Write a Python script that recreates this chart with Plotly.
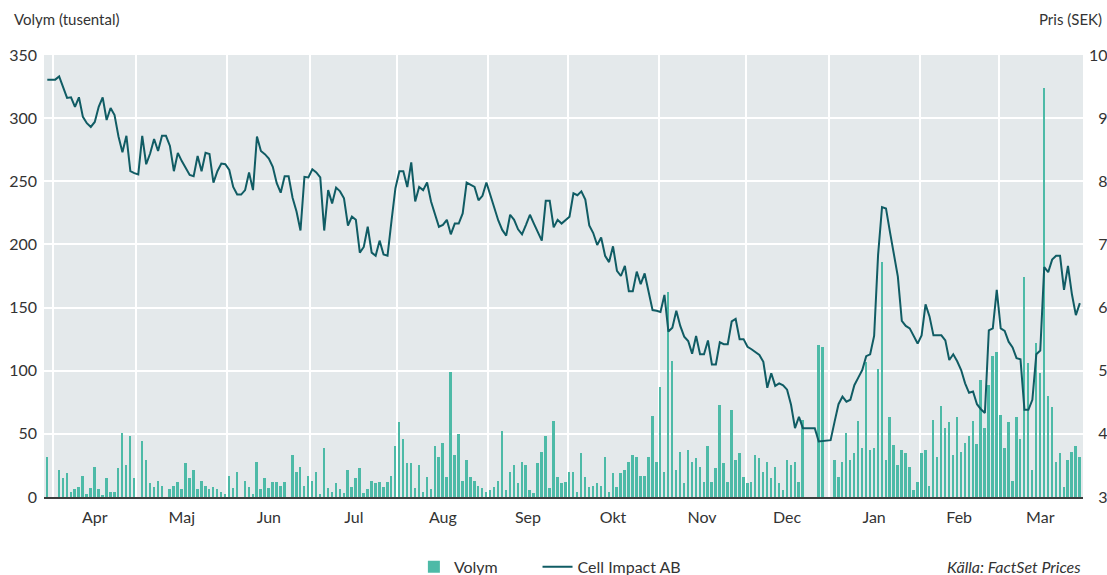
import numpy as np
import pandas as pd
import plotly.graph_objects as go

# ---------------- data ----------------
dates = pd.bdate_range("2018-03-29", "2019-03-29")  # weekday axis (holidays included, zero volume)

price = [
    9.61, 9.61, 9.61, 9.66, 9.50, 9.32, 9.33, 9.18, 9.33, 9.02,
    8.92, 8.86, 8.94, 9.18, 9.33, 8.97, 9.16, 9.05, 8.71, 8.46,
    8.72, 8.16, 8.13, 8.11, 8.72, 8.27, 8.44, 8.67, 8.48, 8.72,
    8.72, 8.56, 8.16, 8.45, 8.32, 8.20, 8.10, 8.08, 8.40, 8.16,
    8.45, 8.43, 7.98, 8.16, 8.28, 8.27, 8.18, 7.91, 7.79, 7.79,
    7.86, 8.14, 7.86, 8.71, 8.48, 8.43, 8.36, 8.23, 7.97, 7.82,
    8.08, 8.08, 7.74, 7.52, 7.22, 8.07, 8.06, 8.19, 8.14, 8.06,
    7.22, 7.86, 7.65, 7.90, 7.84, 7.73, 7.30, 7.44, 7.39, 6.87,
    6.96, 7.28, 6.87, 6.82, 7.06, 6.84, 6.82, 7.37, 7.89, 8.16,
    8.16, 7.91, 8.30, 7.68, 7.91, 7.86, 7.98, 7.68, 7.47, 7.28,
    7.31, 7.39, 7.16, 7.33, 7.33, 7.49, 7.98, 7.95, 7.91, 7.70,
    7.77, 7.98, 7.78, 7.57, 7.38, 7.23, 7.14, 7.47, 7.39, 7.24,
    7.16, 7.31, 7.47, 7.33, 7.18, 7.06, 7.69, 7.69, 7.27, 7.39,
    7.33, 7.38, 7.44, 7.81, 7.78, 7.84, 7.71, 7.30, 7.18, 6.99,
    7.11, 6.82, 6.72, 6.97, 6.58, 6.50, 6.66, 6.26, 6.26, 6.57,
    6.37, 6.54, 6.22, 5.96, 5.95, 5.93, 6.20, 5.62, 5.68, 5.95,
    5.71, 5.54, 5.47, 5.27, 5.55, 5.26, 5.26, 5.48, 5.10, 5.10,
    5.45, 5.42, 5.42, 5.78, 5.82, 5.50, 5.50, 5.38, 5.34, 5.30,
    5.25, 5.14, 4.73, 4.96, 4.76, 4.80, 4.77, 4.70, 4.46, 4.09,
    4.27, 4.09, 4.09, 4.09, 4.09, 3.88, 3.89, 3.90, 3.90, 4.19,
    4.47, 4.59, 4.51, 4.54, 4.77, 4.89, 5.01, 5.23, 5.26, 5.55,
    6.83, 7.59, 7.57, 7.20, 6.84, 6.49, 5.79, 5.71, 5.67, 5.55,
    5.43, 5.56, 6.05, 5.86, 5.56, 5.56, 5.56, 5.48, 5.17, 5.26,
    5.15, 5.01, 4.80, 4.65, 4.67, 4.47, 4.39, 4.33, 5.64, 5.67,
    6.28, 5.67, 5.63, 5.46, 5.37, 5.20, 5.18, 4.38, 4.38, 4.54,
    5.26, 5.32, 6.64, 6.56, 6.76, 6.82, 6.82, 6.28, 6.66, 6.21,
    5.88, 6.07,
]

volume = [
    32, 0, 0, 21, 15, 19, 4, 6, 8, 17,
    2, 7, 24, 6, 1, 15, 4, 4, 23, 51,
    25, 48, 15, 0, 44, 29, 11, 8, 13, 9,
    0, 6, 9, 12, 6, 27, 15, 21, 6, 13,
    9, 6, 8, 6, 4, 2, 17, 7, 20, 0,
    13, 8, 2, 28, 6, 15, 7, 12, 12, 9,
    12, 0, 33, 20, 24, 9, 17, 13, 20, 2,
    39, 7, 4, 11, 6, 3, 21, 8, 15, 23,
    3, 6, 13, 11, 12, 8, 12, 17, 40, 59,
    46, 27, 27, 7, 25, 4, 16, 6, 40, 32,
    43, 16, 99, 33, 50, 13, 29, 16, 13, 9,
    7, 4, 5.5, 8, 13, 52, 5.5, 20, 25, 11,
    28, 25, 5.5, 3, 27, 36, 48, 7, 60, 16,
    11, 12, 20, 20, 4, 35, 16, 8, 9, 11,
    9, 32, 4, 19, 8, 19, 21, 28, 33, 32,
    17, 17, 32, 64, 28, 87, 20, 162, 108, 21,
    36, 11, 37, 28, 31, 24, 12, 40, 12, 23,
    73, 27, 12, 69, 29, 35, 16, 11, 12, 33,
    31, 20, 28, 15, 24, 11, 5.5, 29, 25, 28,
    12, 61, 0, 0, 0, 120, 119, 0, 0, 29,
    16, 28, 51, 29, 35, 60, 39, 107, 37, 39,
    101, 186, 29, 63, 41, 25, 37, 35, 24, 5.5,
    12, 35, 37, 9, 61, 32, 72, 55, 59, 33,
    63, 36, 43, 48, 60, 42, 93, 55, 89, 112,
    115, 65, 39, 59, 13, 63, 46, 174, 106, 21,
    122, 98, 324, 80, 71, 28, 35, 8, 29, 36,
    40, 32,
]

month_labels = ["Apr", "Maj", "Jun", "Jul", "Aug", "Sep",
                "Okt", "Nov", "Dec", "Jan", "Feb", "Mar"]
month_starts = pd.date_range("2018-04-01", "2019-03-01", freq="MS")

left_ticks = [0, 50, 100, 150, 200, 250, 300, 350]
right_ticks = [3, 4, 5, 6, 7, 8, 9, 10]

assert len(price) == len(dates) == len(volume)

# ---------------- positions from the weekday axis ----------------
idx = np.arange(len(dates))
bounds = [float(np.searchsorted(dates.values, np.datetime64(m))) - 0.5 for m in month_starts]
ends = bounds[1:] + [len(dates) - 0.5]
mids = [(a + b) / 2 for a, b in zip(bounds, ends)]
date_txt = dates.strftime("%Y-%m-%d")

FONT = "Lato, 'Open Sans', sans-serif"
TXT = "#333333"
BAR = "#4dbaa7"
LINE = "#105c64"
BG = "#e4e9eb"

fig = go.Figure()
fig.add_trace(go.Bar(
    x=idx, y=volume, width=0.5, name="Volym", legend="legend",
    marker=dict(color=BAR, line=dict(width=0)),
    customdata=date_txt, hovertemplate="%{customdata}<br>Volym: %{y}<extra></extra>",
))
fig.add_trace(go.Scatter(
    x=idx, y=price, yaxis="y2", mode="lines", name="Cell Impact AB", legend="legend2",
    line=dict(color=LINE, width=2),
    customdata=date_txt, hovertemplate="%{customdata}<br>Pris: %{y}<extra></extra>",
))

leg_common = dict(orientation="h", y=-0.158, yanchor="middle", xanchor="left",
                  font=dict(size=16, color=TXT), bgcolor="rgba(0,0,0,0)", itemwidth=30)

fig.update_layout(
    width=1107, height=575, autosize=False,
    margin=dict(l=44, r=24, t=55, b=78, autoexpand=False),
    paper_bgcolor="white", plot_bgcolor=BG,
    font=dict(family=FONT, size=16, color=TXT),
    bargap=0,
    showlegend=True,
    legend=dict(x=0.356, **leg_common),
    legend2=dict(x=0.475, **leg_common),
    xaxis=dict(
        range=[-0.83, 261.8], tickmode="array", tickvals=mids, ticktext=month_labels,
        showgrid=False, zeroline=False, ticks="", ticklabelstandoff=5, automargin=False,
        showline=True, linecolor="#3c3c3c", linewidth=2,
        minor=dict(tickmode="array", tickvals=bounds, showgrid=True,
                   gridcolor="white", gridwidth=1.5, ticks=""),
        tickfont=dict(size=16, color=TXT),
    ),
    yaxis=dict(
        range=[0, 350], tickmode="array", tickvals=left_ticks, automargin=False,
        showgrid=True, gridcolor="white", gridwidth=1.5, zeroline=False,
        ticks="", ticklabelstandoff=6, tickfont=dict(size=16, color=TXT),
    ),
    yaxis2=dict(
        range=[3, 10], tickmode="array", tickvals=right_ticks, automargin=False,
        ticktext=[("\u2007" + str(v)) if v < 10 else str(v) for v in right_ticks],
        overlaying="y", side="right", showgrid=False, zeroline=False,
        ticks="", ticklabelstandoff=5, tickfont=dict(size=16, color=TXT),
    ),
    annotations=[
        dict(text="Volym (tusental)", xref="paper", yref="paper", x=-0.031, y=1.081,
             xanchor="left", yanchor="middle", showarrow=False,
             font=dict(size=15, color=TXT)),
        dict(text="Pris (SEK)", xref="paper", yref="paper", x=1.0202, y=1.081,
             xanchor="right", yanchor="middle", showarrow=False,
             font=dict(size=15, color=TXT)),
        dict(text="<i>Källa: FactSet Prices</i>", xref="paper", yref="paper", x=1.0, y=-0.158,
             xanchor="right", yanchor="middle", showarrow=False,
             font=dict(size=16, color=TXT)),
    ],
)

fig.write_html(
    "out.html",
    config={"displayModeBar": False},
    post_script="document.body.style.margin='0px';document.body.style.overflow='hidden';",
)
